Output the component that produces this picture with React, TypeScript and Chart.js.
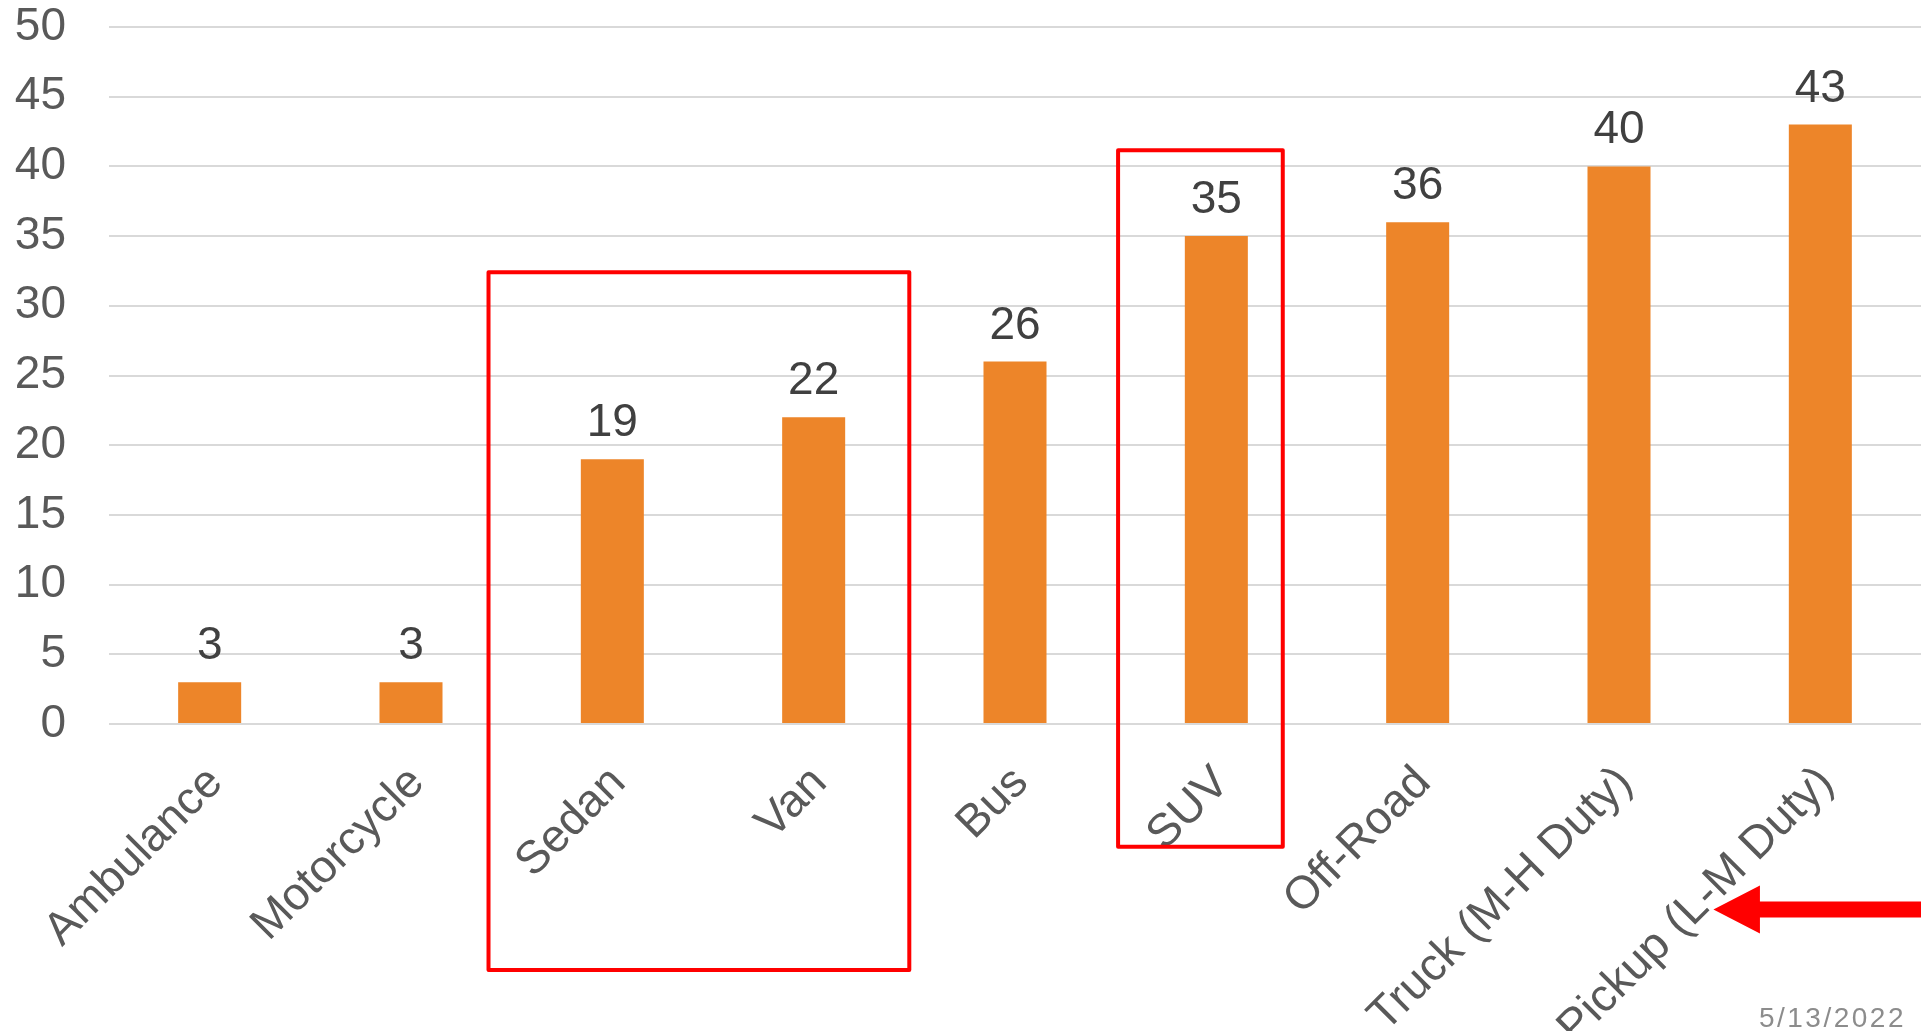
import { useEffect, useRef } from "react";
import { Chart, registerables } from "chart.js";

Chart.register(...registerables);

// Vehicle categories and their counts
const categories = [
  "Ambulance",
  "Motorcycle",
  "Sedan",
  "Van",
  "Bus",
  "SUV",
  "Off-Road",
  "Truck (M-H Duty)",
  "Pickup (L-M Duty)",
];
const counts = [3, 3, 19, 22, 26, 35, 36, 40, 43];

// Value axis range
const yMin = 0;
const yMax = 50;
const yStep = 5;

// Highlighted groups of categories and the category pointed at by the arrow
const highlightGroups = [
  ["Sedan", "Van"],
  ["SUV"],
];
const arrowTarget = "Pickup (L-M Duty)";

const dateLabel = "5/13/2022";

const FONT = "'Liberation Sans', Arial, sans-serif";
const BAR_COLOR = "#ED8529";
const AXIS_TEXT = "#595959";
const VALUE_TEXT = "#404040";
const GRID = "#D9D9D9";
const RED = "#FF0000";

// Frame geometry for each highlight: offsets in category widths from the first/last
// category centre, and vertical extent in value units.
const highlightFrames = [
  { left: -0.615, right: 0.475, top: 32.4, bottom: -17.65 },
  { left: -0.488, right: 0.33, top: 41.15, bottom: -8.8 },
];

const valueLabels = {
  id: "valueLabels",
  afterDatasetsDraw(chart: any) {
    const { ctx } = chart;
    const meta = chart.getDatasetMeta(0);
    ctx.save();
    ctx.font = `46px ${FONT}`;
    ctx.fillStyle = VALUE_TEXT;
    ctx.textAlign = "center";
    ctx.textBaseline = "alphabetic";
    meta.data.forEach((bar: any, i: number) => {
      const v = chart.data.datasets[0].data[i];
      ctx.fillText(String(v), bar.x, bar.y - 23);
    });
    ctx.restore();
  },
};

const callouts = {
  id: "callouts",
  afterDraw(chart: any) {
    const { ctx } = chart;
    const xs = chart.scales.x;
    const ys = chart.scales.y;
    const step = xs.getPixelForValue(1) - xs.getPixelForValue(0);

    ctx.save();
    ctx.strokeStyle = RED;
    ctx.lineWidth = 4;
    ctx.lineJoin = "round";
    highlightGroups.forEach((group, gi) => {
      const f = highlightFrames[gi];
      const first = categories.indexOf(group[0]);
      const last = categories.indexOf(group[group.length - 1]);
      const x0 = xs.getPixelForValue(first) + f.left * step;
      const x1 = xs.getPixelForValue(last) + f.right * step;
      const y0 = ys.getPixelForValue(f.top);
      const y1 = ys.getPixelForValue(f.bottom);
      ctx.strokeRect(x0, y0, x1 - x0, y1 - y0);
    });

    // Arrow pointing left at the last category label
    const ti = categories.indexOf(arrowTarget);
    const tipX = xs.getPixelForValue(ti) - 0.531 * step;
    const baseX = xs.getPixelForValue(ti) - 0.3 * step;
    const ay = ys.getPixelForValue(-13.3);
    ctx.fillStyle = RED;
    ctx.beginPath();
    ctx.moveTo(tipX, ay);
    ctx.lineTo(baseX, ay - 24);
    ctx.lineTo(baseX, ay - 8);
    ctx.lineTo(chart.width, ay - 8);
    ctx.lineTo(chart.width, ay + 8);
    ctx.lineTo(baseX, ay + 8);
    ctx.lineTo(baseX, ay + 24);
    ctx.closePath();
    ctx.fill();

    // Date stamp
    ctx.font = `28px ${FONT}`;
    (ctx as any).letterSpacing = "2.5px";
    ctx.fillStyle = "#8C8C8C";
    ctx.textAlign = "right";
    ctx.textBaseline = "alphabetic";
    ctx.fillText(dateLabel, chart.width - 15, chart.height - 4);
    ctx.restore();
  },
};

export default function App() {
  const canvasRef = useRef<HTMLCanvasElement | null>(null);

  useEffect(() => {
    document.body.style.margin = "0";
    document.body.style.overflow = "hidden";
    const canvas = canvasRef.current;
    if (!canvas) return;

    const chart = new Chart(canvas, {
      type: "bar",
      data: {
        labels: categories,
        datasets: [
          {
            data: counts,
            backgroundColor: BAR_COLOR,
            barPercentage: 0.313,
            categoryPercentage: 1,
          },
        ],
      },
      options: {
        responsive: true,
        maintainAspectRatio: false,
        animation: false,
        layout: { padding: { top: 27, left: 0, right: 0, bottom: 0 } },
        plugins: {
          legend: { display: false },
          tooltip: { enabled: false },
        },
        scales: {
          x: {
            grid: { display: false },
            border: { display: false },
            ticks: {
              autoSkip: false,
              minRotation: 45,
              maxRotation: 45,
              padding: 24,
              labelOffset: 6,
              color: AXIS_TEXT,
              font: { family: FONT, size: 46 },
            },
            afterFit(scale: any) {
              scale.height = 307;
              scale.paddingLeft = 0;
              scale.paddingRight = 0;
            },
          },
          y: {
            min: yMin,
            max: yMax,
            grid: { color: GRID, lineWidth: 2, drawTicks: false },
            border: { display: false },
            ticks: {
              stepSize: yStep,
              padding: 43,
              color: AXIS_TEXT,
              font: { family: FONT, size: 46 },
            },
            afterFit(scale: any) {
              scale.width = 109;
              scale.paddingTop = 0;
              scale.paddingBottom = 0;
            },
          },
        },
      },
      plugins: [valueLabels, callouts],
    });

    return () => chart.destroy();
  }, []);

  return (
    <div style={{ position: "fixed", left: 0, top: 0, width: 1921, height: 1031 }}>
      <canvas ref={canvasRef} />
    </div>
  );
}
